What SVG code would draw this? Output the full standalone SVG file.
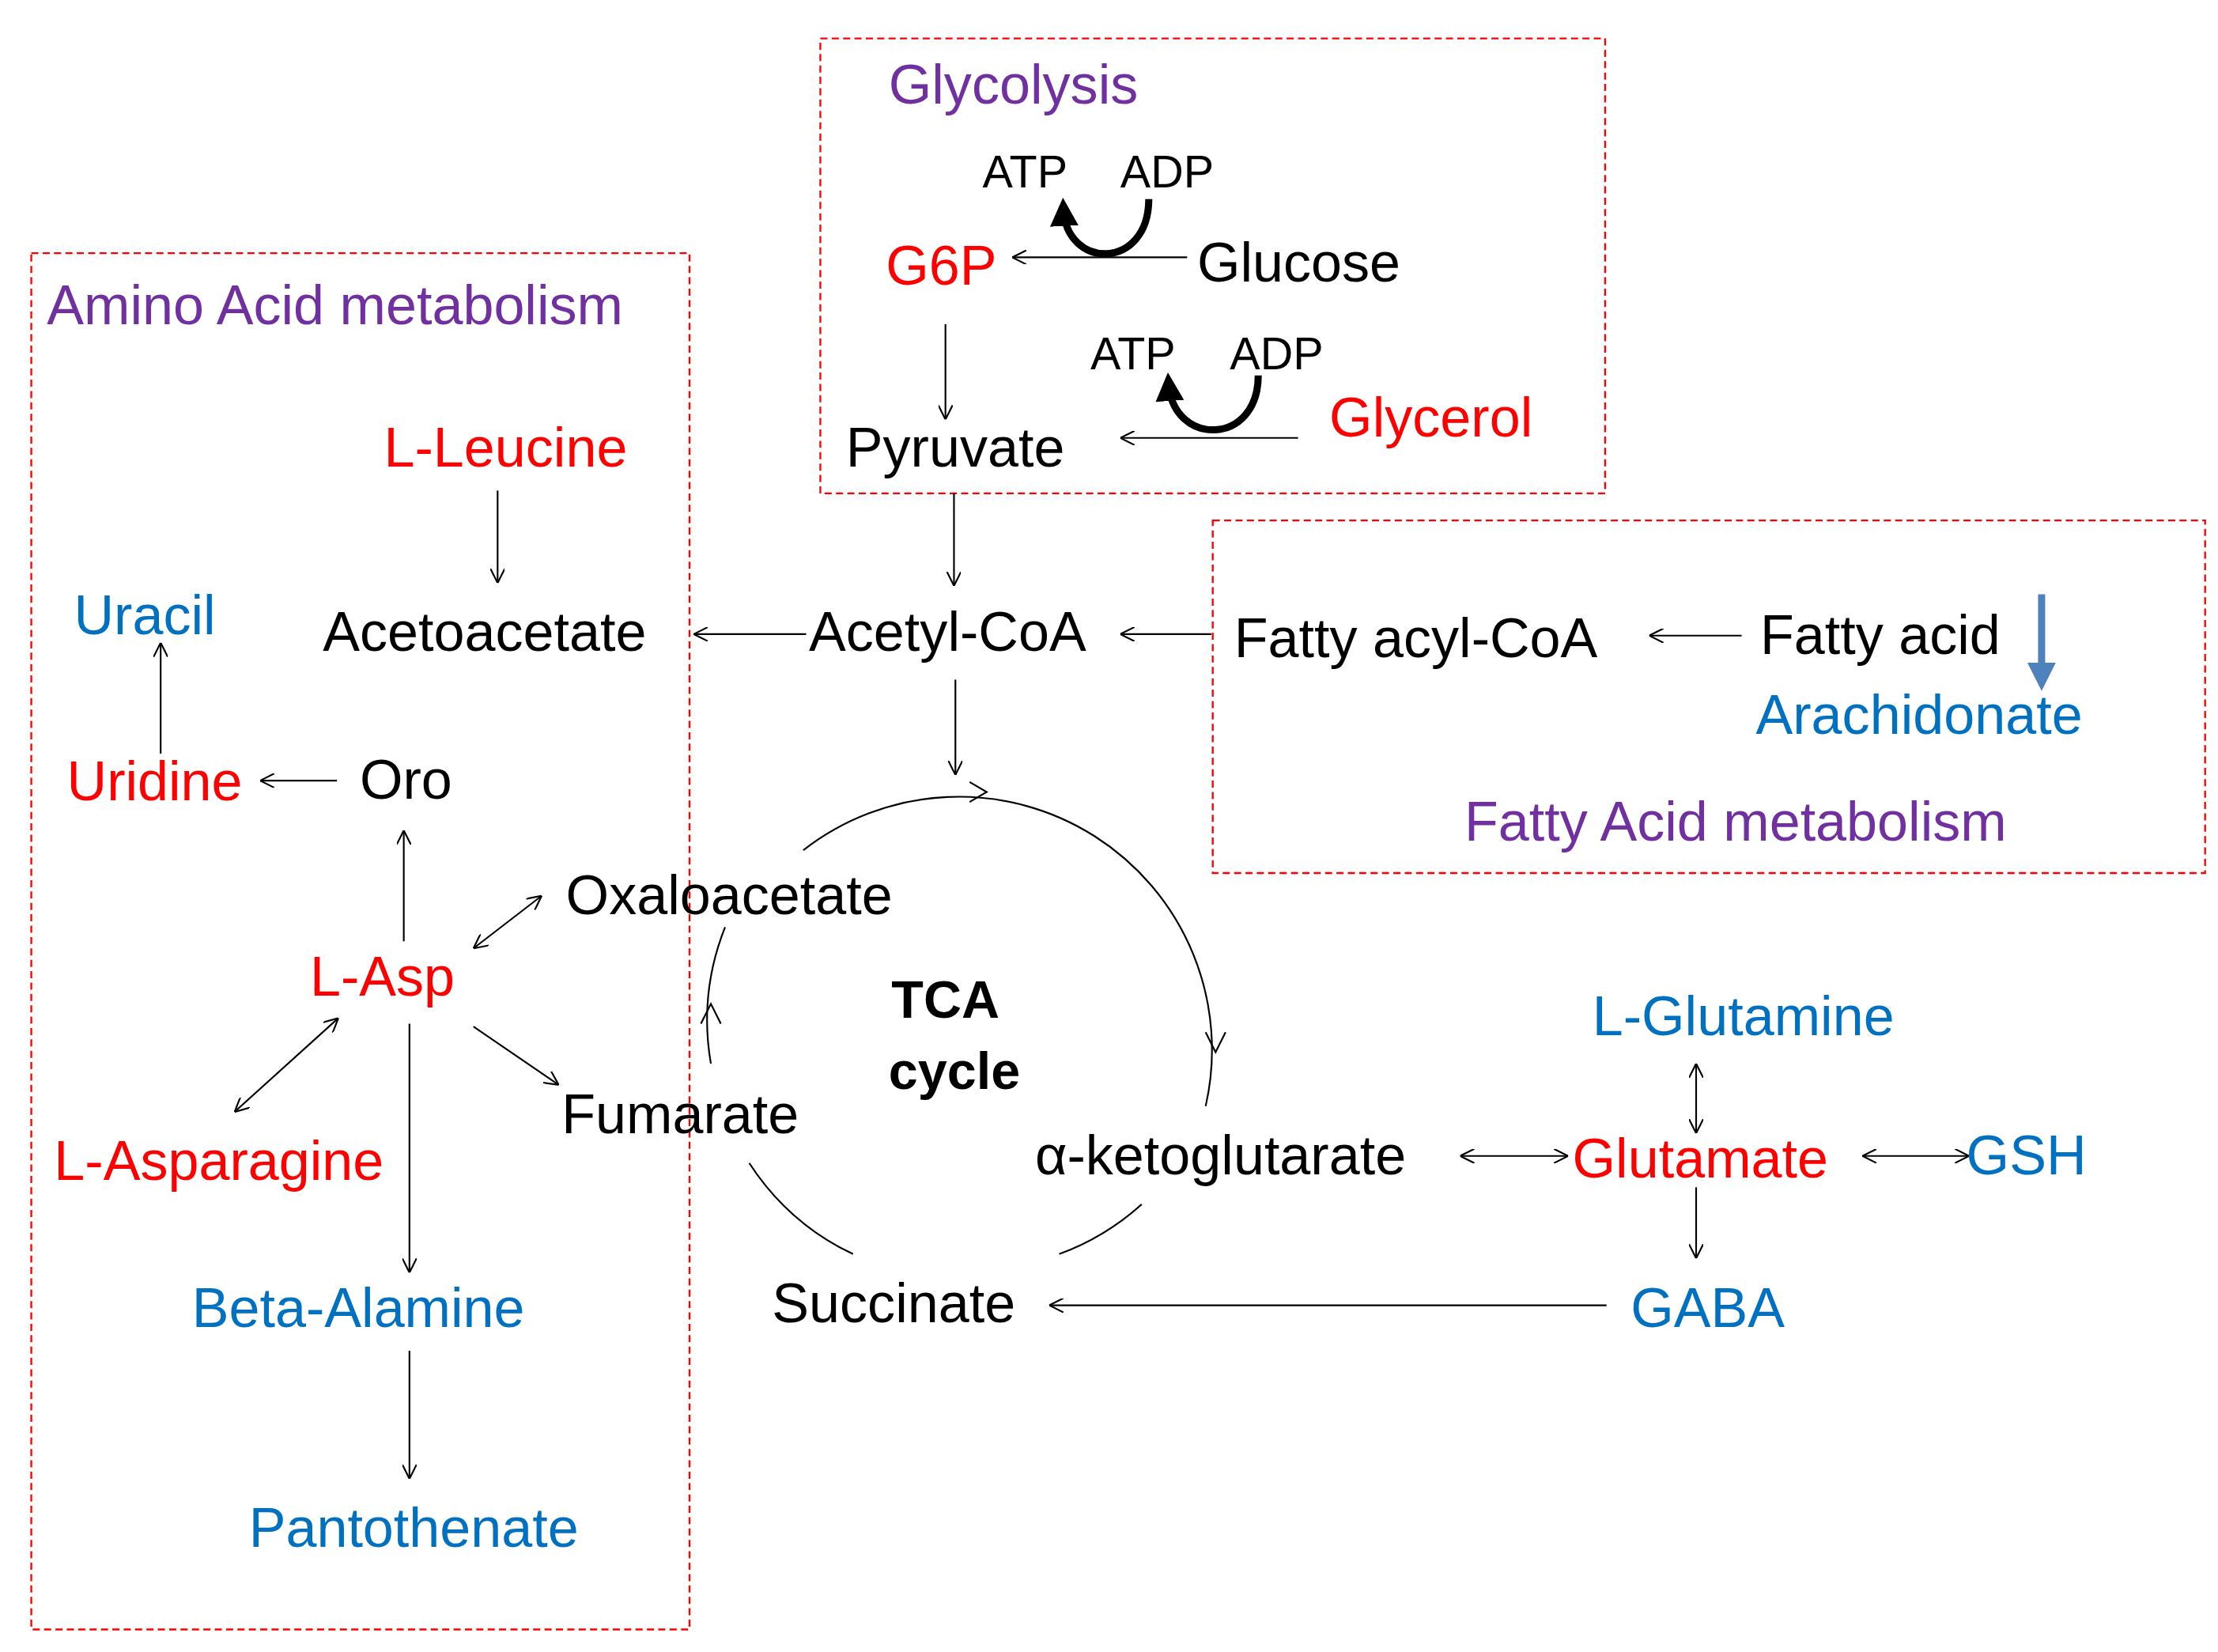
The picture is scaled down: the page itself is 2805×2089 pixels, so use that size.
<svg xmlns="http://www.w3.org/2000/svg" width="2805" height="2089" viewBox="0 0 2805 2089">
<defs>
<marker id="a" viewBox="0 0 10 10" refX="10" refY="5" markerWidth="10" markerHeight="10" markerUnits="userSpaceOnUse" orient="auto-start-reverse"><path d="M0,0 L10,5 L0,10" fill="none" stroke="#000" stroke-width="1.2"/></marker>
<marker id="t" viewBox="0 0 10 10" refX="6" refY="5" markerWidth="4" markerHeight="4" orient="auto"><path d="M0,0 L10,5 L0,10 z" fill="#000"/></marker>
<marker id="b" viewBox="0 0 10 10" refX="6" refY="5" markerWidth="4" markerHeight="4" orient="auto"><path d="M0,0 L10,5 L0,10 z" fill="#4F81BD"/></marker>
<style>
text{font-family:"Liberation Sans",Arial,sans-serif;font-size:39px;fill:#000}
.r{fill:#FF0000}.bl{fill:#0070C0}.p{fill:#7030A0}.s{font-size:32px}.bd{font-weight:bold;font-size:37px}
.box{fill:none;stroke:#FF0000;stroke-width:1.3;stroke-dasharray:5,3}
.l{fill:none;stroke:#000;stroke-width:1.2}
</style>
</defs>
<rect width="2805" height="2089" fill="#fff"/>
<g transform="scale(1.798)">
<g id="boxes">
<rect class="box" x="577" y="27" width="552" height="320"/>
<rect class="box" x="853" y="366" width="698" height="248"/>
<rect class="box" x="22" y="178" width="463" height="968"/>
</g>
<g id="connectors">
<path class="l" d="M835,181 H712" marker-end="url(#a)"/>
<path d="M808,140 C808,190 750,190 748,147" fill="none" stroke="#000" stroke-width="5" marker-end="url(#t)"/>
<path class="l" d="M665,228 V295" marker-end="url(#a)"/>
<path d="M885,264 C885,314 825,314 822,270" fill="none" stroke="#000" stroke-width="5" marker-end="url(#t)"/>
<path class="l" d="M913,308 H788" marker-end="url(#a)"/>
<path class="l" d="M671,347 V412" marker-end="url(#a)"/>
<path class="l" d="M567,446 H488" marker-end="url(#a)"/>
<path class="l" d="M852,446 H788" marker-end="url(#a)"/>
<path class="l" d="M1225,447 H1160" marker-end="url(#a)"/>
<path d="M1436,418 V478" fill="none" stroke="#4F81BD" stroke-width="5" marker-end="url(#b)"/>
<path class="l" d="M672,478 V545" marker-end="url(#a)"/>
<path class="l" d="M350,345 V410" marker-end="url(#a)"/>
<path class="l" d="M113,530 V452" marker-end="url(#a)"/>
<path class="l" d="M237,549 H183" marker-end="url(#a)"/>
<path class="l" d="M284,662 V584" marker-end="url(#a)"/>
<path class="l" d="M333,667 L381,630" marker-start="url(#a)" marker-end="url(#a)"/>
<path class="l" d="M333,722 L393,763" marker-end="url(#a)"/>
<path class="l" d="M165,782 L238,716" marker-start="url(#a)" marker-end="url(#a)"/>
<path class="l" d="M288,720 V895" marker-end="url(#a)"/>
<path class="l" d="M288,950 V1040" marker-end="url(#a)"/>
<path class="l" d="M565,598 A178,178 0 0 1 848,778"/>
<path class="l" d="M682,550 L694,557 L682,564"/>
<path class="l" d="M848,726 L855,740 L862,726"/>
<path class="l" d="M510,652 A178,178 0 0 0 500,748"/>
<path class="l" d="M493,720 L500,706 L507,720"/>
<path class="l" d="M527,818 A178,178 0 0 0 600,882"/>
<path class="l" d="M745,882 A178,178 0 0 0 803,847"/>
<path class="l" d="M1027,813 H1103" marker-start="url(#a)" marker-end="url(#a)"/>
<path class="l" d="M1310,813 H1385" marker-start="url(#a)" marker-end="url(#a)"/>
<path class="l" d="M1193,748 V797" marker-start="url(#a)" marker-end="url(#a)"/>
<path class="l" d="M1193,835 V885" marker-end="url(#a)"/>
<path class="l" d="M1130,918 H738" marker-end="url(#a)"/>
</g>
<g id="labels">
<text class="p" x="625" y="73">Glycolysis</text>
<text class="s" x="691" y="132">ATP</text>
<text class="s" x="788" y="132">ADP</text>
<text class="r" x="623" y="200">G6P</text>
<text x="842" y="198">Glucose</text>
<text class="s" x="767" y="260">ATP</text>
<text class="s" x="865" y="260">ADP</text>
<text x="595" y="328">Pyruvate</text>
<text class="r" x="935" y="307">Glycerol</text>
<text x="569" y="458">Acetyl-CoA</text>
<text x="227" y="458">Acetoacetate</text>
<text x="868" y="462">Fatty acyl-CoA</text>
<text x="1238" y="460">Fatty acid</text>
<text class="bl" x="1235" y="516">Arachidonate</text>
<text class="p" x="1030" y="591">Fatty Acid metabolism</text>
<text class="p" x="33" y="228">Amino Acid  metabolism</text>
<text class="r" x="270" y="328">L-Leucine</text>
<text class="bl" x="52" y="446">Uracil</text>
<text class="r" x="47" y="563">Uridine</text>
<text x="253" y="562">Oro</text>
<text class="r" x="218" y="700">L-Asp</text>
<text x="398" y="643">Oxaloacetate</text>
<text x="395" y="797">Fumarate</text>
<text class="r" x="38" y="830">L-Asparagine</text>
<text class="bl" x="135" y="933">Beta-Alamine</text>
<text class="bl" x="175" y="1088">Pantothenate</text>
<text class="bd" x="627" y="716">TCA</text>
<text class="bd" x="625" y="766">cycle</text>
<text x="728" y="826">α-ketoglutarate</text>
<text class="r" x="1106" y="828">Glutamate</text>
<text class="bl" x="1383" y="826">GSH</text>
<text class="bl" x="1120" y="728">L-Glutamine</text>
<text class="bl" x="1147" y="933">GABA</text>
<text x="543" y="930">Succinate</text>
</g>
</g>
</svg>
